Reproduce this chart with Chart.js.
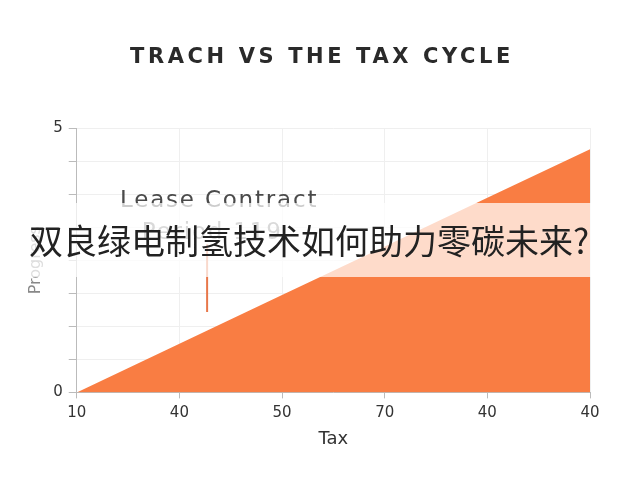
<!DOCTYPE html>
<html>
<head>
<meta charset="utf-8">
<script src="https://cdn.jsdelivr.net/npm/chart.js@4.4.1/dist/chart.umd.min.js"></script>
<style>
  html, body { margin: 0; padding: 0; background: #ffffff; }
  #wrap { position: relative; width: 640px; height: 480px; }
  canvas { display: block; }
  #band {
    position: absolute; left: 0; top: 203px; width: 640px; height: 74px;
    background: rgba(255,255,255,0.72);
    font-family: "Noto Sans CJK SC", sans-serif; font-size: 34px; color: #222;
    line-height: 74px; padding-left: 29px; box-sizing: border-box; white-space: nowrap;
  }
</style>
</head>
<body>
<div id="wrap">
  <canvas id="c" width="640" height="480"></canvas>
  <div id="band">双良绿电制氢技术如何助力零碳未来?</div>
</div>
<script>
const chartTitle = 'TRACH VS THE TAX CYCLE';
const categories = ['10', '40', '50', '70', '40', '40'];
const progressValues = [0, 0.92, 1.84, 2.76, 3.68, 4.6];
const yTickLabels = [0, 5];
const xAxisTitle = 'Tax';
const yAxisTitle = 'Progress';
const annotationX = 1.27;
const annotationYFrom = 1.52;
const annotationYTo = 2.8;
const annotationLabel = ['Lease Contract', 'Period 119'];

const titlePlugin = {
  id: 'spacedTitle',
  afterDraw(chart) {
    const ctx = chart.ctx;
    ctx.save();
    ctx.fillStyle = '#2a2a2a';
    ctx.font = 'bold 21px "DejaVu Sans", sans-serif';
    ctx.letterSpacing = '3.6px';
    ctx.textAlign = 'center';
    ctx.textBaseline = 'middle';
    ctx.fillText(chartTitle, chart.width / 2 + 2, 58);
    ctx.restore();
  }
};

const annotationPlugin = {
  id: 'leaseAnnotation',
  afterDatasetsDraw(chart) {
    const ctx = chart.ctx;
    const xs = chart.scales.x, ys = chart.scales.y;
    const px = xs.getPixelForValue(annotationX);
    const top = ys.getPixelForValue(annotationYTo);
    ctx.save();
    ctx.strokeStyle = '#E8774A';
    ctx.lineWidth = 2;
    ctx.beginPath();
    ctx.moveTo(px, ys.getPixelForValue(annotationYFrom));
    ctx.lineTo(px, top);
    ctx.stroke();
    ctx.fillStyle = '#4a4a4a';
    ctx.font = '23px "DejaVu Sans", sans-serif';
    ctx.letterSpacing = '1.8px';
    ctx.textAlign = 'center';
    ctx.textBaseline = 'middle';
    ctx.fillText(annotationLabel[0], px + 12, top - 43);
    ctx.fillStyle = '#777777';
    ctx.fillText(annotationLabel[1], px + 5, top - 11);
    ctx.restore();
  }
};

new Chart(document.getElementById('c'), {
  type: 'line',
  data: {
    labels: categories,
    datasets: [{
      data: progressValues,
      fill: 'origin',
      backgroundColor: '#F97D43',
      borderColor: '#F97D43',
      borderWidth: 0,
      pointRadius: 0,
      tension: 0
    }]
  },
  options: {
    responsive: false,
    animation: false,
    layout: { padding: { left: 24, right: 50, top: 128, bottom: 30 } },
    plugins: {
      legend: { display: false },
      tooltip: { enabled: false },
      title: { display: false }
    },
    scales: {
      x: {
        offset: false,
        grid: { color: '#efefef', drawTicks: true, tickLength: 6, tickColor: '#bbbbbb' },
        border: { color: '#bbbbbb' },
        ticks: { color: '#333', font: { family: '"DejaVu Sans", sans-serif', size: 15 }, padding: 6, maxRotation: 0 },
        title: { display: true, text: xAxisTitle, color: '#333', font: { family: '"DejaVu Sans", sans-serif', size: 18 }, padding: { top: 0, bottom: 0 } }
      },
      y: {
        min: 0, max: 5,
        afterBuildTicks(scale) {
          const t = [];
          for (let i = 0; i <= 8; i++) t.push({ value: 5 * i / 8 });
          scale.ticks = t;
        },
        grid: { color: '#efefef', tickLength: 8, tickColor: '#bbbbbb' },
        border: { color: '#bbbbbb' },
        ticks: {
          color: '#333', font: { family: '"DejaVu Sans", sans-serif', size: 15 }, padding: 6,
          callback: (v) => yTickLabels.includes(v) ? String(v) : ''
        },
        title: { display: true, text: yAxisTitle, color: '#888', font: { family: '"DejaVu Sans", sans-serif', size: 16 }, padding: 2 }
      }
    }
  },
  plugins: [annotationPlugin, titlePlugin]
});
</script>
</body>
</html>
